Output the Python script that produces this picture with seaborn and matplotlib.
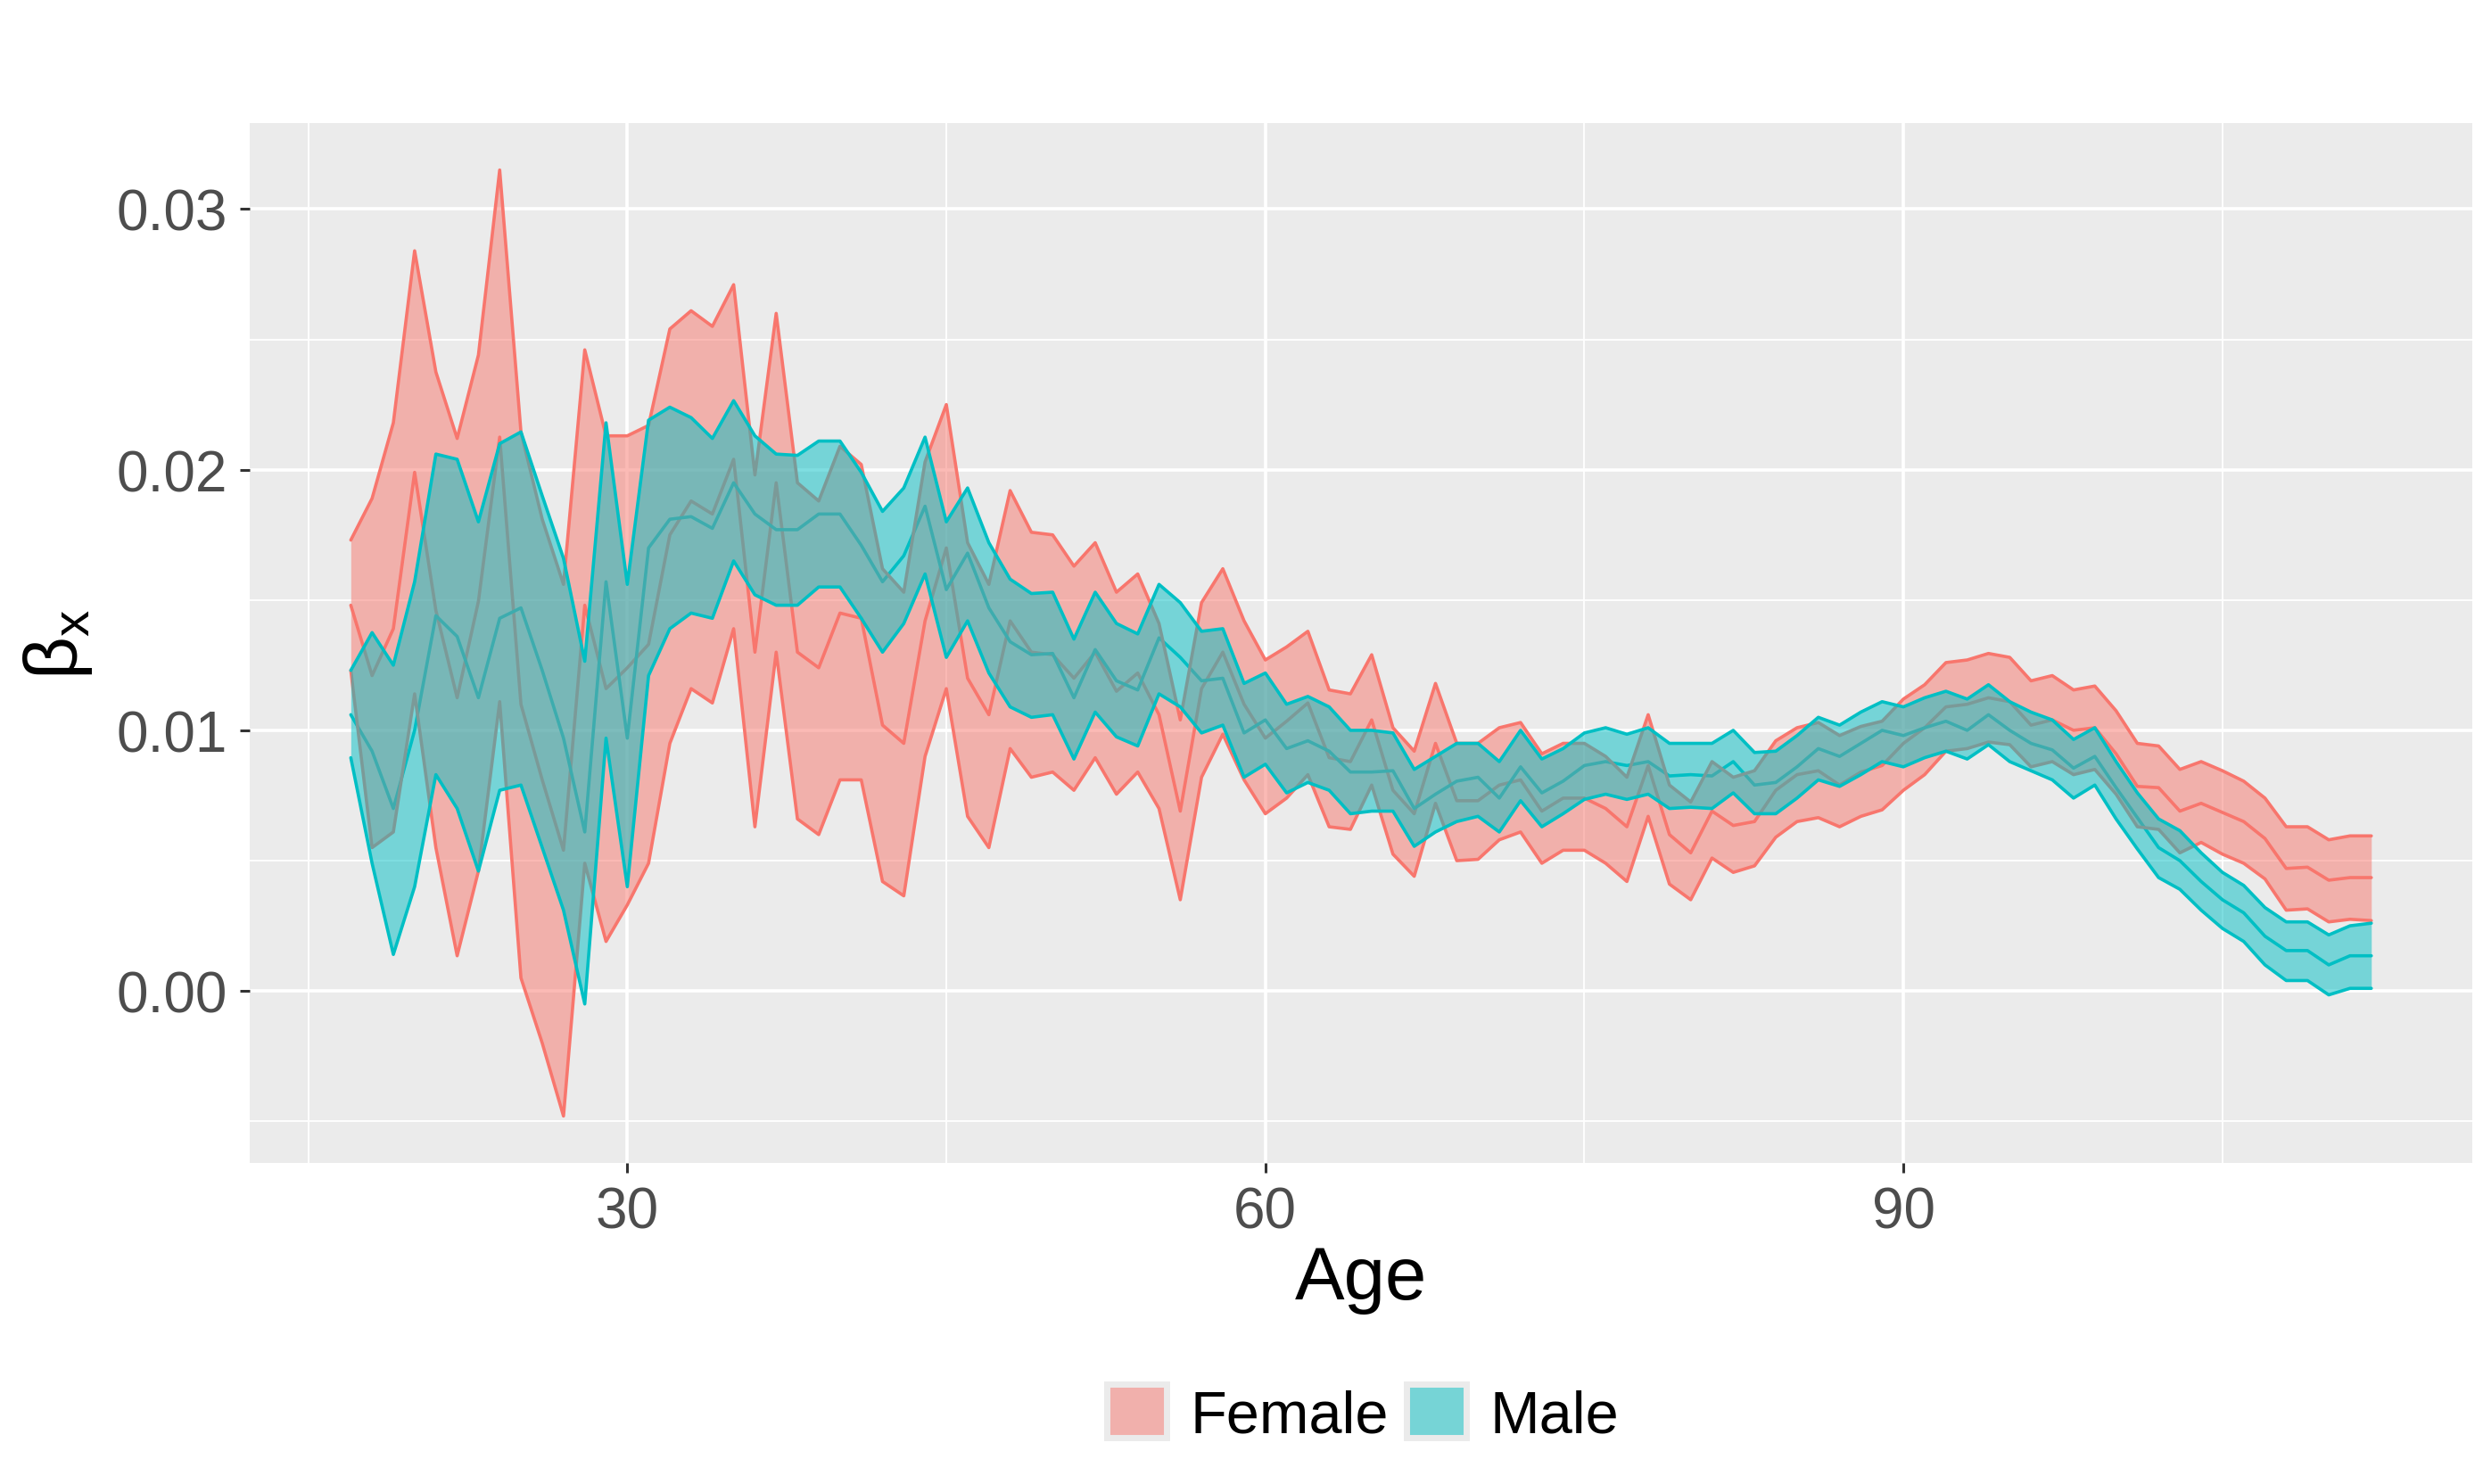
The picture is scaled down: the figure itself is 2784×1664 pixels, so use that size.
import numpy as np
import pandas as pd
import seaborn as sns
import matplotlib.pyplot as plt
from matplotlib.patches import Patch
from matplotlib.ticker import MultipleLocator

ages = list(range(17, 113))

# beta_x, in units of 1e-3
female_upper = [17.3, 18.9, 21.8, 28.4, 23.75, 21.2, 24.4, 31.5, 21.45, 18.1, 15.6, 24.6, 21.3, 21.3, 21.7, 25.4,
                26.1, 25.5, 27.1, 19.8, 26.0, 19.5, 18.8, 20.9, 20.2, 16.2, 15.3, 20.3, 22.5, 17.2, 15.6, 19.2,
                17.6, 17.5, 16.3, 17.2, 15.3, 16.0, 14.1, 10.4, 14.9, 16.2, 14.2, 12.7, 13.2, 13.8, 11.55, 11.4,
                12.9, 10.1, 9.2, 11.8, 9.5, 9.5, 10.1, 10.3, 9.1, 9.5, 9.5, 9.0, 8.2, 10.6, 7.9, 7.25,
                8.8, 8.2, 8.45, 9.6, 10.1, 10.3, 9.8, 10.15, 10.35, 11.2, 11.75, 12.6, 12.7, 12.95, 12.8, 11.9,
                12.1, 11.55, 11.7, 10.75, 9.5, 9.4, 8.5, 8.8, 8.45, 8.05, 7.4, 6.3, 6.3, 5.8, 5.95, 5.95]
female_mid = [14.8, 12.1, 13.9, 19.9, 14.6, 11.25, 14.95, 21.25, 11.0, 8.1, 5.4, 14.8, 11.6, 12.4, 13.3, 17.5,
              18.8, 18.3, 20.4, 13.0, 19.5, 13.0, 12.4, 14.5, 14.3, 10.2, 9.5, 14.2, 17.0, 12.0, 10.6, 14.2,
              13.0, 12.9, 12.0, 13.0, 11.5, 12.2, 10.6, 6.9, 11.6, 13.0, 11.0, 9.7, 10.35, 11.05, 8.95, 8.8,
              10.4, 7.7, 6.8, 9.5, 7.3, 7.3, 7.9, 8.1, 6.9, 7.4, 7.4, 7.0, 6.3, 8.65, 6.0, 5.3,
              6.9, 6.35, 6.5, 7.7, 8.3, 8.45, 7.9, 8.4, 8.65, 9.5, 10.1, 10.9, 11.0, 11.25, 11.1, 10.2,
              10.4, 10.0, 10.1, 9.1, 7.85, 7.8, 6.9, 7.2, 6.85, 6.5, 5.85, 4.7, 4.75, 4.25, 4.35, 4.35]
female_lower = [12.3, 5.5, 6.1, 11.4, 5.5, 1.35, 4.6, 11.1, 0.5, -2.0, -4.8, 4.9, 1.9, 3.3, 4.9, 9.5,
                11.6, 11.05, 13.9, 6.3, 13.0, 6.6, 6.0, 8.1, 8.1, 4.2, 3.65, 9.0, 11.6, 6.7, 5.5, 9.3,
                8.2, 8.4, 7.7, 8.95, 7.55, 8.4, 7.0, 3.5, 8.2, 9.85, 8.1, 6.8, 7.4, 8.3, 6.3, 6.2,
                7.9, 5.25, 4.4, 7.2, 5.0, 5.05, 5.8, 6.1, 4.9, 5.4, 5.4, 4.9, 4.2, 6.7, 4.1, 3.5,
                5.1, 4.55, 4.8, 5.9, 6.5, 6.65, 6.3, 6.7, 6.95, 7.7, 8.3, 9.2, 9.3, 9.55, 9.45, 8.6,
                8.8, 8.3, 8.5, 7.55, 6.3, 6.2, 5.3, 5.7, 5.25, 4.9, 4.3, 3.1, 3.15, 2.65, 2.75, 2.7]
male_upper = [12.3, 13.75, 12.5, 15.7, 20.6, 20.4, 18.0, 21.0, 21.45, 19.0, 16.6, 12.65, 21.8, 15.6, 21.9, 22.4,
              22.0, 21.2, 22.65, 21.3, 20.6, 20.55, 21.1, 21.1, 19.9, 18.4, 19.3, 21.25, 18.0, 19.3, 17.2, 15.8,
              15.25, 15.3, 13.5, 15.3, 14.1, 13.7, 15.6, 14.9, 13.8, 13.9, 11.8, 12.2, 11.0, 11.3, 10.9, 10.0,
              10.0, 9.9, 8.5, 9.0, 9.5, 9.5, 8.8, 10.0, 8.9, 9.3, 9.9, 10.1, 9.85, 10.1, 9.5, 9.5,
              9.5, 10.0, 9.15, 9.2, 9.8, 10.5, 10.2, 10.7, 11.1, 10.9, 11.25, 11.5, 11.2, 11.75, 11.1, 10.7,
              10.4, 9.65, 10.1, 8.8, 7.6, 6.6, 6.15, 5.3, 4.55, 4.05, 3.2, 2.65, 2.65, 2.15, 2.5, 2.6]
male_mid = [10.6, 9.2, 7.0, 10.0, 14.4, 13.6, 11.25, 14.3, 14.7, 12.3, 9.7, 6.1, 15.7, 9.7, 17.0, 18.1,
            18.2, 17.75, 19.5, 18.3, 17.7, 17.7, 18.3, 18.3, 17.1, 15.7, 16.7, 18.6, 15.4, 16.8, 14.7, 13.4,
            12.9, 12.95, 11.25, 13.1, 11.9, 11.55, 13.55, 12.8, 11.9, 12.0, 9.9, 10.4, 9.3, 9.6, 9.2, 8.4,
            8.4, 8.45, 7.0, 7.55, 8.05, 8.2, 7.4, 8.6, 7.6, 8.05, 8.65, 8.8, 8.65, 8.8, 8.25, 8.3,
            8.25, 8.8, 7.9, 8.0, 8.6, 9.3, 9.0, 9.5, 10.0, 9.8, 10.1, 10.35, 10.0, 10.6, 10.0, 9.5,
            9.25, 8.55, 9.0, 7.8, 6.65, 5.5, 5.0, 4.2, 3.5, 3.0, 2.1, 1.55, 1.55, 1.0, 1.35, 1.35]
male_lower = [8.95, 4.9, 1.4, 4.0, 8.3, 7.0, 4.6, 7.7, 7.9, 5.5, 3.1, -0.5, 9.7, 4.0, 12.1, 13.9,
              14.5, 14.3, 16.5, 15.2, 14.8, 14.8, 15.5, 15.5, 14.3, 13.0, 14.1, 16.0, 12.8, 14.2, 12.2, 10.9,
              10.5, 10.6, 8.9, 10.7, 9.75, 9.4, 11.4, 10.9, 9.9, 10.2, 8.2, 8.7, 7.6, 8.0, 7.7, 6.8,
              6.9, 6.9, 5.55, 6.1, 6.5, 6.7, 6.1, 7.3, 6.3, 6.8, 7.35, 7.55, 7.35, 7.55, 7.0, 7.05,
              7.0, 7.6, 6.8, 6.8, 7.4, 8.1, 7.85, 8.3, 8.8, 8.6, 8.95, 9.2, 8.9, 9.45, 8.8, 8.45,
              8.1, 7.4, 7.9, 6.6, 5.45, 4.35, 3.9, 3.1, 2.4, 1.9, 1.0, 0.4, 0.4, -0.15, 0.1, 0.1]

series = {
    ("Female", "upper"): female_upper, ("Female", "mid"): female_mid, ("Female", "lower"): female_lower,
    ("Male", "upper"): male_upper, ("Male", "mid"): male_mid, ("Male", "lower"): male_lower,
}
rows = []
for (sex, bound), vals in series.items():
    for a, v in zip(ages, vals):
        rows.append({"Age": a, "sex": sex, "bound": bound, "beta": v * 1e-3})
df = pd.DataFrame(rows)

pal = {"Female": "#F8766D", "Male": "#00BFC4"}
key_fill = {"Female": "#F1B0AC", "Male": "#76D4D6"}

sns.set_theme(style="darkgrid")
plt.rcParams['font.family'] = ['Liberation Sans', 'DejaVu Sans']
plt.rcParams['mathtext.fontset'] = 'custom'
plt.rcParams['mathtext.rm'] = 'Liberation Sans'

fig = plt.figure(figsize=(13.92, 8.325), dpi=200)
fig.patch.set_facecolor("white")
ax = fig.add_axes([0.1006, 0.2162, 0.8951, 0.7003])
ax.set_facecolor("#EBEBEB")

# centre lines first, ribbons drawn over them
sns.lineplot(data=df[df.bound == "mid"], x="Age", y="beta", hue="sex", palette=pal,
             lw=1.3, legend=False, ax=ax, zorder=2)

for z, sex in [(3, "Female"), (4, "Male")]:
    d = df[df.sex == sex]
    up = d[d.bound == "upper"].beta.values
    lo = d[d.bound == "lower"].beta.values
    ax.fill_between(ages, lo, up, color=pal[sex], alpha=0.5, lw=0, zorder=z)
    sns.lineplot(data=d[d.bound != "mid"], x="Age", y="beta", units="bound", estimator=None,
                 color=pal[sex], lw=1.3, legend=False, ax=ax, zorder=z)

ax.set_ylim(-0.0066, 0.0333)
ax.set_xlim(12.25, 116.75)

ax.xaxis.set_major_locator(MultipleLocator(30))
ax.xaxis.set_minor_locator(MultipleLocator(15))
ax.yaxis.set_minor_locator(MultipleLocator(0.005))
ax.set_yticks([0, 0.01, 0.02, 0.03])
ax.set_yticklabels(["0.00", "0.01", "0.02", "0.03"])
ax.grid(which="major", color="white", lw=1.3)
ax.grid(which="minor", color="white", lw=0.65)
for s in ax.spines.values():
    s.set_visible(False)
ax.tick_params(which="major", length=4, width=1.1, color="#333333", labelsize=23,
               labelcolor="#4D4D4D", pad=5, bottom=True, left=True)
ax.tick_params(which="minor", length=0)

ax.set_xlabel("Age", fontsize=30, color="black", labelpad=2)
ax.set_ylabel("β$_\\mathrm{x}$", fontsize=30, color="black", labelpad=9)

handles = [Patch(facecolor=key_fill[s], edgecolor="#EBEBEB", lw=2.5, label=s) for s in ["Female", "Male"]]
fig.legend(handles=handles, loc="center", bbox_to_anchor=(0.549, 0.047), ncol=2, frameon=False,
           fontsize=24, handlelength=1.0, handleheight=1.0, handletextpad=0.4, columnspacing=0.3,
           labelcolor="black")

fig.savefig("out.png", dpi=200, facecolor="white")
